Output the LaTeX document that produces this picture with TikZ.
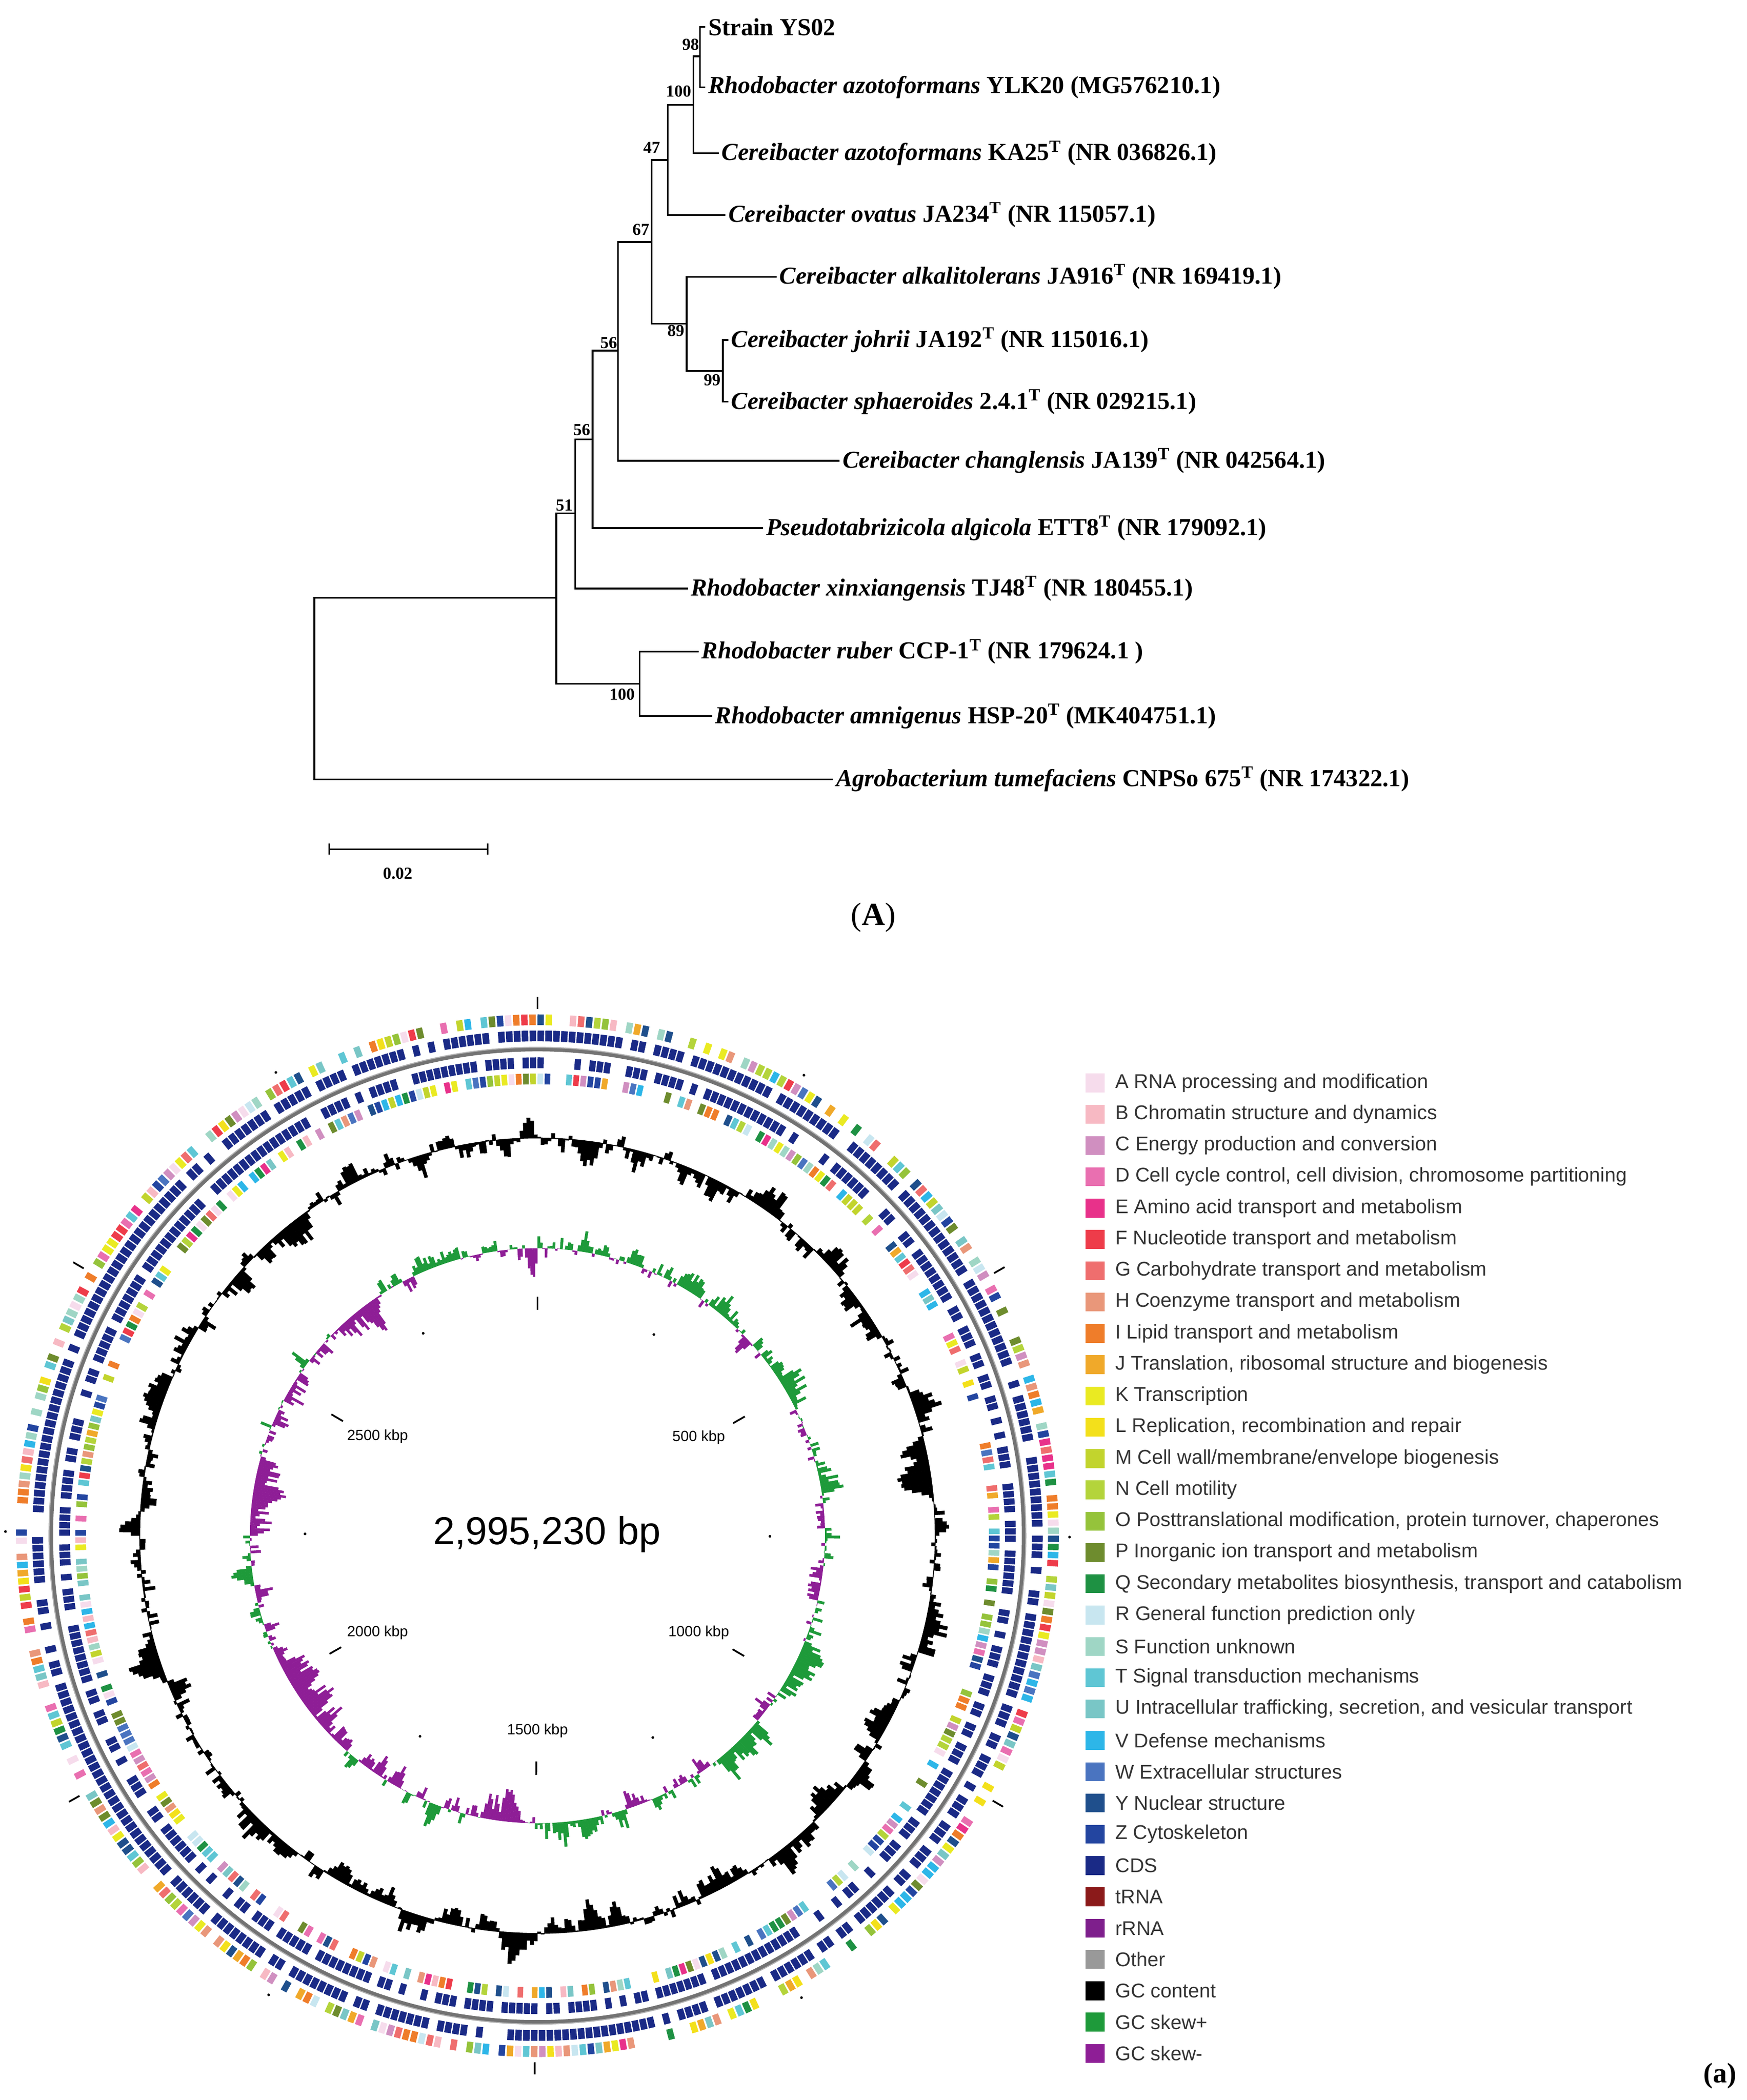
\documentclass[tikz,border=0pt]{standalone}
\usepackage{fontspec}
\setmainfont{Liberation Serif}
\newfontfamily\lsans{Liberation Sans}
\begin{document}
\definecolor{cog1}{HTML}{F6DCEC}\definecolor{cog2}{HTML}{F7B9C3}\definecolor{cog3}{HTML}{D08FC0}
\definecolor{cog4}{HTML}{E96FB0}\definecolor{cog5}{HTML}{E8318A}\definecolor{cog6}{HTML}{EE3C4A}
\definecolor{cog7}{HTML}{EF6E6E}\definecolor{cog8}{HTML}{E9977A}\definecolor{cog9}{HTML}{EF7D2A}
\definecolor{cog10}{HTML}{F0A92A}\definecolor{cog11}{HTML}{EAEA22}\definecolor{cog12}{HTML}{F3E01B}
\definecolor{cog13}{HTML}{C2D42D}\definecolor{cog14}{HTML}{B4D43B}\definecolor{cog15}{HTML}{95C33B}
\definecolor{cog16}{HTML}{6E8C2E}\definecolor{cog17}{HTML}{1E9143}\definecolor{cog18}{HTML}{C8E6F0}
\definecolor{cog19}{HTML}{9FD6C5}\definecolor{cog20}{HTML}{5FC6D4}\definecolor{cog21}{HTML}{79C6C6}
\definecolor{cog22}{HTML}{2DB6E8}\definecolor{cog23}{HTML}{4A74C0}\definecolor{cog24}{HTML}{1F4F8C}
\definecolor{cog25}{HTML}{2345A0}\definecolor{cog26}{HTML}{1A2A86}\definecolor{cog27}{HTML}{8B1A1A}
\definecolor{cog28}{HTML}{7E1F8C}\definecolor{cog29}{HTML}{999999}\definecolor{cog30}{HTML}{000000}
\definecolor{cog31}{HTML}{1E9A3A}\definecolor{cog32}{HTML}{8E1E96}
\begin{tikzpicture}[x=1pt,y=-1pt,
  br/.style={line width=1.3pt},
  leaf/.style={anchor=west,font=\fontsize{18.2}{19}\selectfont\bfseries,inner sep=2pt},
  bs/.style={font=\fontsize{12.5}{13}\selectfont\bfseries,inner sep=0pt},
  lg/.style={anchor=west,font=\lsans\fontsize{14.8}{16}\selectfont,text=black!80,inner sep=0pt}]
\useasboundingbox (0,0) rectangle (1300,1563);
% ---------- tree ----------
\coordinate (l1) at (525,20); \coordinate (l2) at (525,65);
\coordinate (l3) at (535,114); \coordinate (l4) at (540,160);
\coordinate (l5) at (578,206); \coordinate (l6) at (542,253);
\coordinate (l7) at (542,299); \coordinate (l8) at (625,343);
\coordinate (l9) at (568,393); \coordinate (l10) at (512,438);
\coordinate (l11) at (520,485); \coordinate (l12) at (530,533);
\coordinate (l13) at (620,580);
\coordinate (n98) at (521,42); \coordinate (n100a) at (516,78);
\coordinate (n47) at (497,119); \coordinate (n99) at (538,276);
\coordinate (n89) at (511,241); \coordinate (n67) at (485,180);
\coordinate (n56a) at (460,261); \coordinate (n56b) at (441,327);
\coordinate (n51) at (428,382); \coordinate (n100b) at (476,509);
\coordinate (nA) at (414,445); \coordinate (root) at (234,512);
\foreach \p/\c in {n98/l1,n98/l2,n100a/n98,n100a/l3,n47/n100a,n47/l4,n99/l6,n99/l7,
  n89/l5,n89/n99,n67/n47,n67/n89,n56a/n67,n56a/l8,n56b/n56a,n56b/l9,n51/n56b,n51/l10,
  n100b/l11,n100b/l12,nA/n51,nA/n100b,root/nA,root/l13}
  \draw[br] (\p) |- (\c);
\node[leaf] at (l1) {Strain YS02};
\node[leaf] at (l2) {\textit{Rhodobacter azotoformans} YLK20 (MG576210.1)};
\node[leaf] at (l3) {\textit{Cereibacter azotoformans} KA25\textsuperscript{T} (NR 036826.1)};
\node[leaf] at (l4) {\textit{Cereibacter ovatus} JA234\textsuperscript{T} (NR 115057.1)};
\node[leaf] at (l5) {\textit{Cereibacter alkalitolerans} JA916\textsuperscript{T} (NR 169419.1)};
\node[leaf] at (l6) {\textit{Cereibacter johrii} JA192\textsuperscript{T} (NR 115016.1)};
\node[leaf] at (l7) {\textit{Cereibacter sphaeroides} 2.4.1\textsuperscript{T} (NR 029215.1)};
\node[leaf] at (l8) {\textit{Cereibacter changlensis} JA139\textsuperscript{T} (NR 042564.1)};
\node[leaf] at (l9) {\textit{Pseudotabrizicola algicola} ETT8\textsuperscript{T} (NR 179092.1)};
\node[leaf] at (l10) {\textit{Rhodobacter xinxiangensis} TJ48\textsuperscript{T} (NR 180455.1)};
\node[leaf] at (l11) {\textit{Rhodobacter ruber} CCP-1\textsuperscript{T} (NR 179624.1 )};
\node[leaf] at (l12) {\textit{Rhodobacter amnigenus} HSP-20\textsuperscript{T} (MK404751.1)};
\node[leaf] at (l13) {\textit{Agrobacterium tumefaciens} CNPSo 675\textsuperscript{T} (NR 174322.1)};
\node[bs] (b98) at (514,33) {98};
\node[bs] (b100a) at (505,68) {100};
\node[bs] (b47) at (485,110) {47};
\node[bs] (b67) at (477,171) {67};
\node[bs] (b89) at (503,246) {89};
\node[bs] (b99) at (530,283) {99};
\node[bs] (b56a) at (453,255) {56};
\node[bs] (b56b) at (433,320) {56};
\node[bs] (b51) at (420,376) {51};
\node[bs] (b100b) at (463,517) {100};
\coordinate (s1) at (245,632); \coordinate (s2) at (363,632);
\draw[line width=1.2pt] ([yshift=-4]s1) -- ([yshift=4]s1) (s1) -- (s2) ([yshift=-4]s2) -- ([yshift=4]s2);
\node[bs] (sc) at (296,650) {0.02};
\node[font=\fontsize{24}{26}\selectfont] (capA) at (650,683) {(\textbf{A})};
% ---------- circular map ----------
\begin{scope}[shift={(400pt,-1143pt)},x=1pt,y=1pt]
\pgfmathsetseed{11}
\foreach \k in {0,...,399}{
  \pgfmathsetmacro\a{90-\k*0.9}\pgfmathsetmacro\s{rnd}
  \pgfmathrandominteger{\c}{1}{25}
  \ifdim\s pt>0.22pt \draw[line width=8pt,cog\c] (\a:384) arc[start angle=\a,end angle=\a-0.7,radius=384];\fi}
\foreach \k in {0,...,399}{
  \pgfmathsetmacro\a{90-\k*0.9}\pgfmathsetmacro\s{rnd}
  \ifdim\s pt>0.2pt \draw[line width=8pt,cog26] (\a:372) arc[start angle=\a,end angle=\a-0.75,radius=372];\fi}
\draw[line width=3pt,black!55] (0,0) circle (362);
\draw[line width=0.8pt,black!30] (0,0) circle (363.5);
\foreach \k in {0,...,399}{
  \pgfmathsetmacro\a{90-\k*0.9}\pgfmathsetmacro\s{rnd}
  \ifdim\s pt>0.3pt \draw[line width=8pt,cog26] (\a:352) arc[start angle=\a,end angle=\a-0.75,radius=352];\fi}
\foreach \k in {0,...,399}{
  \pgfmathsetmacro\a{90-\k*0.9}\pgfmathsetmacro\s{rnd}
  \pgfmathrandominteger{\c}{1}{25}
  \ifdim\s pt>0.3pt \draw[line width=8pt,cog\c] (\a:340) arc[start angle=\a,end angle=\a-0.7,radius=340];\fi}
% GC content (random walk)
\xdef\gprev{0}
\foreach \k in {0,...,719}{
  \pgfmathsetmacro\a{90-\k*0.5}
  \pgfmathsetmacro\h{0.82*\gprev+(rnd-0.5)*0.55}
  \xdef\gprev{\h}
  \pgfmathsetmacro\r{296+30*\h+3*(rnd-0.5)}
  \fill[black] (\a+0.02:296) -- (\a+0.02:\r) -- (\a-0.52:\r) -- (\a-0.52:296) -- cycle;}
\draw[line width=0.6pt] (0,0) circle (296);
% GC skew
\xdef\sprev{0.3}
\foreach \k in {0,...,719}{
  \pgfmathsetmacro\a{90-\k*0.5}
  \pgfmathsetmacro\m{0.8*\sprev+(rnd-0.42)*0.5}
  \xdef\sprev{\m}
  \pgfmathsetmacro\sg{(\k<355 ? 1 : -1)*\m}
  \pgfmathsetmacro\r{214+34*\sg+2*(rnd-0.5)}
  \ifdim\sg pt>0pt \def\cc{cog31}\else\def\cc{cog32}\fi
  \fill[\cc] (\a+0.02:214) -- (\a+0.02:\r) -- (\a-0.52:\r) -- (\a-0.52:214) -- cycle;}
\foreach \j in {0,...,11}{
  \pgfmathsetmacro\a{90-\j*30.05}
  \ifodd\j \fill (\a:396) circle (1);\else \draw[line width=1.3pt] (\a:392) -- (\a:401);\fi
  \ifodd\j \fill (\a:173) circle (1);\else \draw[line width=1.3pt] (\a:168) -- (\a:178);\fi}
\end{scope}
\node[font=\lsans\fontsize{29}{32}\selectfont] (tot) at (407,1142) {2,995,230 bp};
\node[font=\lsans\fontsize{11}{12}\selectfont] (k2500) at (281,1069) {2500 kbp};
\node[font=\lsans\fontsize{11}{12}\selectfont] (k500) at (520,1070) {500 kbp};
\node[font=\lsans\fontsize{11}{12}\selectfont] (k2000) at (281,1215) {2000 kbp};
\node[font=\lsans\fontsize{11}{12}\selectfont] (k1000) at (520,1215) {1000 kbp};
\node[font=\lsans\fontsize{11}{12}\selectfont] (k1500) at (400,1288) {1500 kbp};
\foreach \t [count=\i] in {A RNA processing and modification,B Chromatin structure and dynamics,
 C Energy production and conversion,{D Cell cycle control, cell division, chromosome partitioning},
 E Amino acid transport and metabolism,F Nucleotide transport and metabolism,
 G Carbohydrate transport and metabolism,H Coenzyme transport and metabolism,
 I Lipid transport and metabolism,{J Translation, ribosomal structure and biogenesis},
 K Transcription,{L Replication, recombination and repair},M Cell wall/membrane/envelope biogenesis,
 N Cell motility,{O Posttranslational modification, protein turnover, chaperones},
 P Inorganic ion transport and metabolism,{Q Secondary metabolites biosynthesis, transport and catabolism},
 R General function prediction only,S Function unknown,T Signal transduction mechanisms,
 {U Intracellular trafficking, secretion, and vesicular transport},V Defense mechanisms,
 W Extracellular structures,Y Nuclear structure,Z Cytoskeleton,CDS,tRNA,rRNA,Other,GC content,
 GC skew+,GC skew-}{
  \pgfmathsetmacro\yy{806+(\i-1)*23.3}
  \fill[cog\i] (808,\yy-7) rectangle (822,\yy+7);
  \node[lg] (lg\i) at (830,\yy) {\t};}
\node[font=\fontsize{21}{24}\selectfont\bfseries] (capa) at (1280,1545) {(a)};
\end{tikzpicture}
\end{document}
